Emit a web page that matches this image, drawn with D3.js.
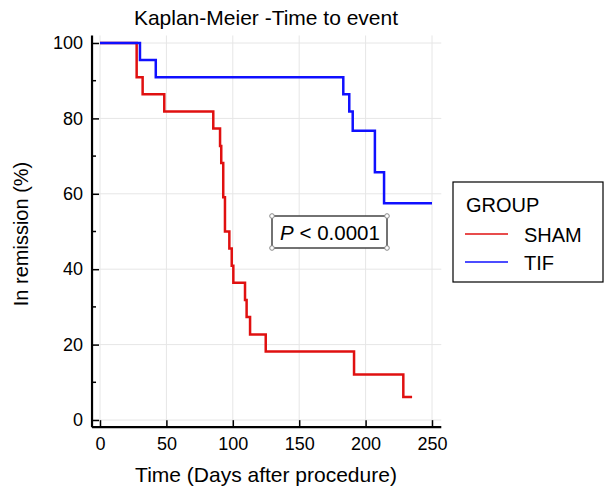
<!DOCTYPE html>
<html>
<head>
<meta charset="utf-8">
<script src="https://cdn.jsdelivr.net/npm/d3@7"></script>
<style>
  body { margin: 0; background: #fff; }
  svg { font-family: "Liberation Sans", Arial, Helvetica, sans-serif; }
</style>
</head>
<body>
<svg width="605" height="487"></svg>
<script>
// Kaplan-Meier curves (days, % in remission)
const shamTimes = [0, 27.6, 32.1, 48.4, 85.3, 90.4, 91.3, 92.8, 94.1, 97.4, 99.2, 100.4, 109.2, 110.4, 113, 124.8, 191.3, 228.4]
const shamSurv = [100, 90.9, 86.4, 81.8, 77.3, 72.7, 68.2, 59.1, 50, 45.5, 40.9, 36.4, 31.8, 27.3, 22.7, 18.2, 12.1, 6.1]
const shamEnd = 235

const tifTimes = [0, 30.1, 42, 183.2, 187.7, 190.3, 207, 213.9]
const tifSurv = [100, 95.5, 90.9, 86.4, 81.8, 76.7, 65.7, 57.5]
const tifEnd = 250

const xTicks = [0, 50, 100, 150, 200, 250]
const yTicks = [0, 20, 40, 60, 80, 100]
const yMinor = [10, 30, 50, 70, 90]

const groups = ['SHAM', 'TIF']
const colors = ['#e01010', '#1010ff']

const svg = d3.select('svg')

/* SCALES */
const x = d3.scaleLinear().domain([0, 250]).range([100, 432])
const y = d3.scaleLinear().domain([0, 100]).range([420, 43])

/* GRID */
svg.append('g').selectAll('line')
  .data(xTicks)
  .enter().append('line')
  .attr('x1', d => x(d)).attr('x2', d => x(d))
  .attr('y1', y(-2)).attr('y2', y(102))
  .attr('stroke', '#e6e6e6').attr('stroke-width', 1)

svg.append('g').selectAll('line')
  .data(yTicks)
  .enter().append('line')
  .attr('y1', d => y(d)).attr('y2', d => y(d))
  .attr('x1', x(-6)).attr('x2', x(257))
  .attr('stroke', '#e6e6e6').attr('stroke-width', 1)

/* AXES */
const xAxis = d3.axisBottom(x).tickValues(xTicks).tickSize(-7).tickPadding(10)
const yAxis = d3.axisLeft(y).tickValues(yTicks).tickSize(-7).tickPadding(9)

const gx = svg.append('g')
  .attr('transform', `translate(0, ${y(-1.9)})`)
  .call(xAxis)
gx.select('.domain').remove()
gx.selectAll('line').attr('stroke', '#000').attr('stroke-width', 1.5)
gx.selectAll('text').attr('font-size', 18).attr('fill', '#000')

const gy = svg.append('g')
  .attr('transform', `translate(${x(-6)}, 0)`)
  .call(yAxis)
gy.select('.domain').remove()
gy.selectAll('line').attr('stroke', '#000').attr('stroke-width', 1.5)
gy.selectAll('text').attr('font-size', 18).attr('fill', '#000')

gy.selectAll('.minor')
  .data(yMinor)
  .enter().append('line')
  .attr('x1', 0).attr('x2', 4)
  .attr('y1', d => y(d)).attr('y2', d => y(d))
  .attr('stroke', '#000').attr('stroke-width', 1.5)

// axis lines
svg.append('line')
  .attr('x1', x(-6)).attr('x2', x(257))
  .attr('y1', y(-1.9)).attr('y2', y(-1.9))
  .attr('stroke', '#000').attr('stroke-width', 2.2)
svg.append('line')
  .attr('x1', x(-6)).attr('x2', x(-6))
  .attr('y1', y(-1.9)).attr('y2', y(102))
  .attr('stroke', '#000').attr('stroke-width', 2.2)

/* CURVES */
const line = d3.line().x(d => x(d[0])).y(d => y(d[1])).curve(d3.curveStepAfter)

function steps(times, surv, end) {
  const pts = times.map((t, i) => [t, surv[i]])
  pts.push([end, surv[surv.length - 1]])
  return pts
}

svg.append('path')
  .datum(steps(shamTimes, shamSurv, shamEnd))
  .attr('d', line)
  .attr('fill', 'none').attr('stroke', colors[0]).attr('stroke-width', 2.5)

svg.append('path')
  .datum(steps(tifTimes, tifSurv, tifEnd))
  .attr('d', line)
  .attr('fill', 'none').attr('stroke', colors[1]).attr('stroke-width', 2.5)

/* TITLES */
svg.append('text')
  .attr('x', 266).attr('y', 25)
  .attr('text-anchor', 'middle').attr('font-size', 21)
  .text('Kaplan-Meier -Time to event')

svg.append('text')
  .attr('x', 266).attr('y', 482)
  .attr('text-anchor', 'middle').attr('font-size', 21)
  .text('Time (Days after procedure)')

svg.append('text')
  .attr('transform', 'translate(28, 234) rotate(-90)')
  .attr('text-anchor', 'middle').attr('font-size', 20)
  .text('In remission (%)')

/* P VALUE BOX */
const pg = svg.append('g')
pg.append('rect')
  .attr('x', 272).attr('y', 216).attr('width', 115).attr('height', 32)
  .attr('fill', '#fff').attr('stroke', '#444').attr('stroke-width', 1.5)
;[[272, 216], [387, 216], [272, 248], [387, 248]].forEach(c => {
  pg.append('circle').attr('cx', c[0]).attr('cy', c[1]).attr('r', 2.3)
    .attr('fill', '#fff').attr('stroke', '#888').attr('stroke-width', 1)
})
const pt = pg.append('text')
  .attr('x', 330).attr('y', 239.5)
  .attr('text-anchor', 'middle').attr('font-size', 20.5)
pt.append('tspan').attr('font-style', 'italic').text('P')
pt.append('tspan').text(' < 0.0001')

/* LEGEND */
const lg = svg.append('g')
lg.append('rect')
  .attr('x', 453).attr('y', 182).attr('width', 150).attr('height', 100)
  .attr('fill', '#fff').attr('stroke', '#000').attr('stroke-width', 1.2)
lg.append('text')
  .attr('x', 466).attr('y', 212).attr('font-size', 20)
  .text('GROUP')
groups.forEach((g, i) => {
  const ly = 234 + i * 28
  lg.append('line')
    .attr('x1', 465).attr('x2', 508).attr('y1', ly).attr('y2', ly)
    .attr('stroke', colors[i]).attr('stroke-width', 1.5)
  lg.append('text')
    .attr('x', 524).attr('y', ly + 8).attr('font-size', 20)
    .text(g)
})
</script>
</body>
</html>
